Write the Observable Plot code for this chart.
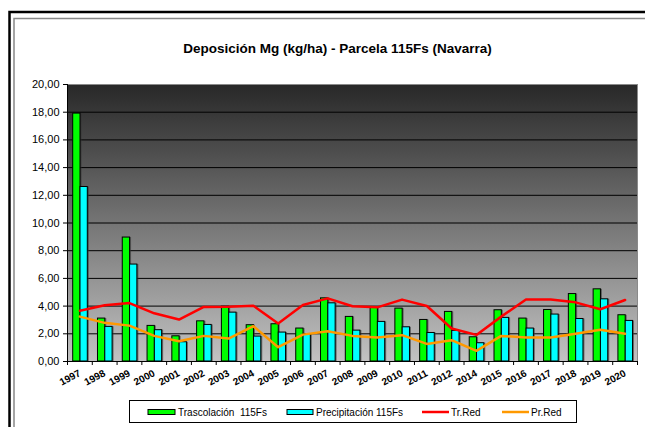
<!DOCTYPE html>
<html><head><meta charset="utf-8">
<script src="https://cdn.jsdelivr.net/npm/d3@7"></script>
<script src="https://cdn.jsdelivr.net/npm/@observablehq/plot@0.6"></script>
<style>body{margin:0;background:#fff;overflow:hidden}</style>
</head><body><div id="chart"></div>
<script>
const title = "Deposición Mg (kg/ha) - Parcela 115Fs (Navarra)";
const years = ["1997","1998","1999","2000","2001","2002","2003","2004","2005","2006","2007","2008","2009","2010","2011","2012","2014","2015","2016","2017","2018","2019","2020"];
const trasc  = [17.9, 3.1, 8.95, 2.57, 1.82, 2.9, 3.96, 2.62, 2.69, 2.38, 4.56, 3.22, 3.89, 3.82, 3.0, 3.58, 1.75, 3.7, 3.1, 3.72, 4.87, 5.21, 3.34];
const precip = [12.6, 2.5, 7.0, 2.26, 1.39, 2.64, 3.53, 1.8, 2.09, 1.97, 4.2, 2.23, 2.86, 2.47, 2.06, 2.21, 1.32, 3.15, 2.38, 3.39, 3.07, 4.49, 2.93];
const trRed  = [3.67, 4.06, 4.22, 3.48, 3.03, 3.94, 3.96, 4.03, 2.74, 4.08, 4.56, 3.99, 3.91, 4.47, 4.01, 2.38, 1.92, 3.24, 4.47, 4.47, 4.27, 3.77, 4.44];
const prRed  = [3.24, 2.79, 2.59, 1.85, 1.46, 1.85, 1.66, 2.55, 1.03, 1.94, 2.18, 1.85, 1.73, 1.9, 1.27, 1.54, 0.77, 1.85, 1.73, 1.73, 2.0, 2.3, 2.0];
const seriesNames = ["Trascolación  115Fs", "Precipitación 115Fs", "Tr.Red", "Pr.Red"];
const seriesColors = ["#00ff00", "#00ffff", "#ff0000", "#ff9900"];
const yTicks = [0,2,4,6,8,10,12,14,16,18,20];

const W = 645, H = 427, mL = 67, mR = 8, mT = 84, mB = 66;
const bw = (W - mL - mR) / years.length;
const rows = years.map((y, i) => ({year: y, tr: trasc[i], pr: precip[i], trRed: trRed[i], prRed: prRed[i]}));
const fmt = d => d3.format(".2f")(d).replace(".", ",");
const font = "'Liberation Sans', Arial, sans-serif";

const plot = Plot.plot({
  width: W, height: H, marginLeft: mL, marginRight: mR, marginTop: mT, marginBottom: mB,
  style: {fontFamily: font, background: "transparent", color: "#000", overflow: "visible"},
  x: {type: "band", domain: years, padding: 0, round: false},
  y: {domain: [0, 20]},
  marks: [
    Plot.frame({fill: "url(#plotbg)", stroke: "#8a8a8a"}),
    Plot.gridY(yTicks.slice(1, -1), {stroke: "#000", strokeOpacity: 1, strokeWidth: 1}),
    Plot.barY(rows, {x: "year", y: "tr", fill: "#333", fillOpacity: 0.6, insetLeft: 5.7, insetRight: bw - 13, dx: 1.5}),
    Plot.barY(rows, {x: "year", y: "pr", fill: "#333", fillOpacity: 0.6, insetLeft: 13, insetRight: bw - 20.3, dx: 1.5}),
    Plot.barY(rows, {x: "year", y: "tr", fill: seriesColors[0], stroke: "#000", strokeWidth: 1, insetLeft: 5.7, insetRight: bw - 13}),
    Plot.barY(rows, {x: "year", y: "pr", fill: seriesColors[1], stroke: "#000", strokeWidth: 1, insetLeft: 13, insetRight: bw - 20.3}),
    Plot.line(rows, {x: "year", y: "trRed", stroke: seriesColors[2], strokeWidth: 2.5}),
    Plot.line(rows, {x: "year", y: "prRed", stroke: seriesColors[3], strokeWidth: 2.5}),
    Plot.ruleY([0], {stroke: "#000"}),
    Plot.frame({anchor: "left", stroke: "#000"}),
    Plot.axisY({ticks: yTicks, tickFormat: fmt, tickSize: 4, tickPadding: 4, fontSize: 11, label: null}),
    Plot.axisX({tickSize: 4, tickFormat: () => "", dx: -bw / 2, label: null}),
    Plot.axisX({ticks: [years[years.length - 1]], tickSize: 4, tickFormat: () => "", dx: bw / 2, label: null}),
    Plot.axisX({tickSize: 0, tickRotate: -28, tickPadding: 11, fontSize: 10, fontWeight: "bold", label: null}),
    Plot.text([title], {frameAnchor: "top", dy: -41, dx: -15, fontSize: 13.5, fontWeight: "bold", fill: "#000"})
  ]
});

const svg = d3.select(plot);
svg.insert("defs", ":first-child").html(
  '<linearGradient id="plotbg" x1="0" y1="0" x2="0" y2="1">' +
  '<stop offset="0" stop-color="#282828"/><stop offset="1" stop-color="#c2c2c2"/></linearGradient>');

// outer chart frame
svg.append("rect").attr("x", 9.5).attr("y", 12).attr("width", 700).attr("height", 500)
  .attr("fill", "none").attr("stroke", "#000").attr("stroke-width", 2.5);
svg.append("rect").attr("x", 14).attr("y", 18.5).attr("width", 700).attr("height", 500)
  .attr("fill", "none").attr("stroke", "#888").attr("stroke-width", 1.5);

// legend
const lg = svg.append("g").attr("font-family", font).attr("font-size", 10).attr("text-anchor", "start");
lg.append("rect").attr("x", 129.5).attr("y", 400.5).attr("width", 447).attr("height", 22)
  .attr("fill", "#fff").attr("stroke", "#000");
const items = [
  {type: "box", x0: 148, x1: 175, tx: 178},
  {type: "box", x0: 287, x1: 313, tx: 316},
  {type: "line", x0: 422, x1: 449, tx: 451},
  {type: "line", x0: 502, x1: 529, tx: 531}
];
items.forEach((it, i) => {
  if (it.type === "box") {
    lg.append("rect").attr("x", it.x0).attr("y", 409.5).attr("width", it.x1 - it.x0).attr("height", 5)
      .attr("fill", seriesColors[i]).attr("stroke", "#000");
  } else {
    lg.append("line").attr("x1", it.x0).attr("x2", it.x1).attr("y1", 412).attr("y2", 412)
      .attr("stroke", seriesColors[i]).attr("stroke-width", 2.5);
  }
  lg.append("text").attr("x", it.tx).attr("y", 415.5).attr("text-anchor", "start")
    .style("white-space", "pre").text(seriesNames[i]);
});

document.getElementById("chart").append(plot);
</script>
</body></html>
